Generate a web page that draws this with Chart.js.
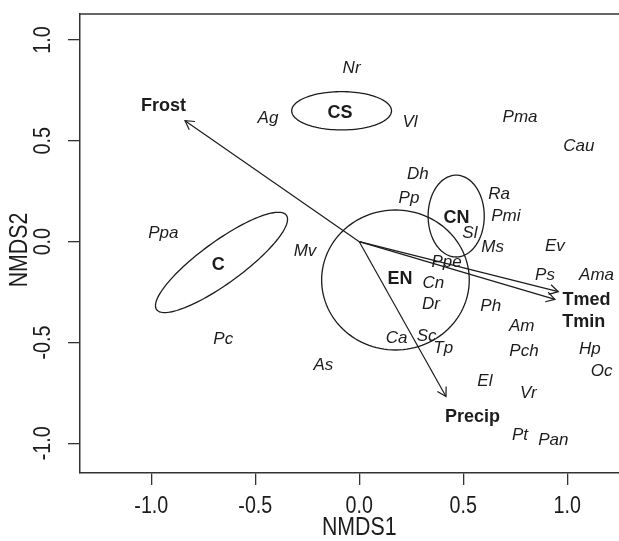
<!DOCTYPE html>
<html>
<head>
<meta charset="utf-8">
<script src="https://cdn.jsdelivr.net/npm/chart.js@4.4.1/dist/chart.umd.min.js"></script>
<style>
  html, body { margin: 0; padding: 0; background: #fff; overflow: hidden; }
  #wrap { width: 619px; height: 541px; position: relative; }
</style>
</head>
<body>
<div id="wrap"><canvas id="nmds"></canvas></div>
<script>
// Species scores (NMDS1, NMDS2)
const speciesNames = ['Nr', 'Ag', 'Vl', 'Pma', 'Cau', 'Dh', 'Pp', 'Ra', 'Pmi', 'Sl', 'Ms', 'Ev',
    'Ppe', 'Ps', 'Ama', 'Cn', 'Dr', 'Ph', 'Am', 'Ca', 'Sc', 'Tp', 'Pch', 'Hp', 'Oc', 'As',
    'El', 'Vr', 'Pt', 'Pan', 'Mv', 'Ppa', 'Pc'];
const speciesX = [-0.037, -0.439, 0.244, 0.773, 1.056, 0.282, 0.239, 0.672, 0.705, 0.532, 0.641, 0.941,
    0.420, 0.893, 1.141, 0.356, 0.345, 0.632, 0.781, 0.180, 0.324, 0.404, 0.792, 1.109, 1.165, -0.173,
    0.604, 0.813, 0.773, 0.933, -0.261, -0.942, -0.654];
const speciesY = [0.861, 0.613, 0.594, 0.618, 0.474, 0.336, 0.217, 0.236, 0.127, 0.043, -0.026, -0.021,
    -0.100, -0.165, -0.165, -0.205, -0.309, -0.322, -0.421, -0.477, -0.471, -0.529, -0.545, -0.533, -0.645, -0.611,
    -0.694, -0.752, -0.958, -0.983, -0.046, 0.042, -0.484];

// Group centroids
const groupNames = ['CS', 'CN', 'EN', 'C'];
const groupX = [-0.093, 0.468, 0.196, -0.678];
const groupY = [0.638, 0.118, -0.185, -0.116];

// Group ellipses (centre, semi-axes, rotation in degrees)
const ellipseCX = [-0.085, 0.466, 0.174, -0.6625];
const ellipseCY = [0.649, 0.127, -0.190, -0.103];
const ellipseA = [0.240, 0.135, 0.355, 0.390];
const ellipseB = [0.095, 0.203, 0.347, 0.103];
const ellipseAngle = [0, 0, 0, 37];

// Environmental vectors
const envNames = ['Frost', 'Tmed', 'Tmin', 'Precip'];
const envX = [-0.838, 0.957, 0.941, 0.417];
const envY = [0.600, -0.248, -0.286, -0.768];
const envLabelX = [-0.942, 1.093, 1.080, 0.545];
const envLabelY = [0.673, -0.289, -0.398, -0.868];

// Axes
const xTicks = [-1.0, -0.5, 0.0, 0.5, 1.0];
const yTicks = [-1.0, -0.5, 0.0, 0.5, 1.0];
const xRange = [-1.343, 1.249];
const yRange = [-1.147, 1.129];

const INK = '#1c1c1c';
const SANS = '"Liberation Sans", Arial, Helvetica, sans-serif';

// Ellipse outlines, drawn in data space through the scales
const ellipsePlugin = {
    id: 'ellipses',
    beforeDatasetsDraw(chart) {
        const ctx = chart.ctx;
        const xs = chart.scales.x;
        const ys = chart.scales.y;
        ctx.save();
        ctx.strokeStyle = INK;
        ctx.lineWidth = 1.3;
        for (let i = 0; i < ellipseCX.length; i++) {
            const th = ellipseAngle[i] * Math.PI / 180;
            ctx.beginPath();
            for (let k = 0; k <= 120; k++) {
                const t = k / 120 * Math.PI * 2;
                const dx = ellipseA[i] * Math.cos(t);
                const dy = ellipseB[i] * Math.sin(t);
                const vx = ellipseCX[i] + dx * Math.cos(th) - dy * Math.sin(th);
                const vy = ellipseCY[i] + dx * Math.sin(th) + dy * Math.cos(th);
                const px = xs.getPixelForValue(vx);
                const py = ys.getPixelForValue(vy);
                if (k === 0) ctx.moveTo(px, py); else ctx.lineTo(px, py);
            }
            ctx.stroke();
        }
        ctx.restore();
    }
};

// Arrowheads and all text labels
const labelPlugin = {
    id: 'labels',
    afterDatasetsDraw(chart) {
        const ctx = chart.ctx;
        ctx.save();
        ctx.strokeStyle = INK;
        ctx.fillStyle = INK;
        ctx.lineWidth = 1.2;

        // arrowheads
        chart.data.datasets.forEach((ds, i) => {
            if (ds.kind !== 'env') return;
            const pts = chart.getDatasetMeta(i).data;
            const a = pts[0], b = pts[1];
            const ang = Math.atan2(b.y - a.y, b.x - a.x);
            const len = 10, spread = Math.PI / 6;
            ctx.beginPath();
            ctx.moveTo(b.x - len * Math.cos(ang - spread), b.y - len * Math.sin(ang - spread));
            ctx.lineTo(b.x, b.y);
            ctx.lineTo(b.x - len * Math.cos(ang + spread), b.y - len * Math.sin(ang + spread));
            ctx.stroke();
        });

        ctx.textAlign = 'center';
        ctx.textBaseline = 'middle';
        chart.data.datasets.forEach((ds, i) => {
            if (!ds.names) return;
            ctx.font = ds.kind === 'species' ? 'italic 17px ' + SANS : 'bold 18px ' + SANS;
            chart.getDatasetMeta(i).data.forEach((pt, j) => {
                ctx.fillText(ds.names[j], pt.x, pt.y);
            });
        });
        ctx.restore();
    },
    afterDraw(chart) {
        const ctx = chart.ctx;
        const area = chart.chartArea;
        const xs = chart.scales.x;
        const ys = chart.scales.y;
        ctx.save();
        // top edge of the box
        ctx.strokeStyle = '#333';
        ctx.lineWidth = 1.5;
        ctx.beginPath();
        ctx.moveTo(area.left, area.top);
        ctx.lineTo(area.right, area.top);
        ctx.stroke();

        ctx.fillStyle = INK;
        ctx.textAlign = 'center';
        ctx.textBaseline = 'middle';
        ctx.font = '24px ' + SANS;
        xs.ticks.forEach(t => {
            ctx.save();
            ctx.translate(xs.getPixelForValue(t.value), 506);
            ctx.scale(0.82, 1);
            ctx.fillText(t.value.toFixed(1), 0, 0);
            ctx.restore();
        });
        ys.ticks.forEach(t => {
            ctx.save();
            ctx.translate(43, ys.getPixelForValue(t.value));
            ctx.rotate(-Math.PI / 2);
            ctx.scale(0.82, 1);
            ctx.fillText(t.value.toFixed(1), 0, 0);
            ctx.restore();
        });

        ctx.font = '26px ' + SANS;
        ctx.save();
        ctx.translate(xs.getPixelForValue(0), 528);
        ctx.scale(0.82, 1);
        ctx.fillText('NMDS1', 0, 0);
        ctx.restore();
        ctx.save();
        ctx.translate(20, 250);
        ctx.rotate(-Math.PI / 2);
        ctx.scale(0.82, 1);
        ctx.fillText('NMDS2', 0, 0);
        ctx.restore();
        ctx.restore();
    }
};

const datasets = [];
envNames.forEach((name, i) => {
    datasets.push({
        kind: 'env',
        data: [{ x: 0, y: 0 }, { x: envX[i], y: envY[i] }],
        showLine: true,
        borderColor: INK,
        borderWidth: 1.2,
        pointRadius: 0
    });
});
datasets.push({
    kind: 'species',
    names: speciesNames,
    data: speciesX.map((x, i) => ({ x: x, y: speciesY[i] })),
    pointRadius: 0
});
datasets.push({
    kind: 'group',
    names: groupNames,
    data: groupX.map((x, i) => ({ x: x, y: groupY[i] })),
    pointRadius: 0
});
datasets.push({
    kind: 'envLabel',
    names: envNames,
    data: envLabelX.map((x, i) => ({ x: x, y: envLabelY[i] })),
    pointRadius: 0
});

const axisCommon = {
    type: 'linear',
    grid: { drawOnChartArea: false, drawTicks: true, tickLength: 12, color: '#333', lineWidth: 1.3 },
    border: { display: true, color: '#333', width: 1.5 },
    ticks: { display: false }
};

new Chart(document.getElementById('nmds'), {
    type: 'scatter',
    data: { datasets: datasets },
    options: {
        responsive: true,
        maintainAspectRatio: false,
        animation: false,
        layout: { padding: { top: 14, left: 0, right: 0, bottom: 0 } },
        plugins: { legend: { display: false }, tooltip: { enabled: false } },
        scales: {
            x: Object.assign({}, axisCommon, {
                position: 'bottom',
                min: xRange[0],
                max: xRange[1],
                afterBuildTicks: s => { s.ticks = xTicks.map(v => ({ value: v })); },
                afterFit: s => { s.height = 68; }
            }),
            y: Object.assign({}, axisCommon, {
                position: 'left',
                min: yRange[0],
                max: yRange[1],
                afterBuildTicks: s => { s.ticks = yTicks.map(v => ({ value: v })); },
                afterFit: s => { s.width = 80; }
            })
        }
    },
    plugins: [ellipsePlugin, labelPlugin]
});
</script>
</body>
</html>
